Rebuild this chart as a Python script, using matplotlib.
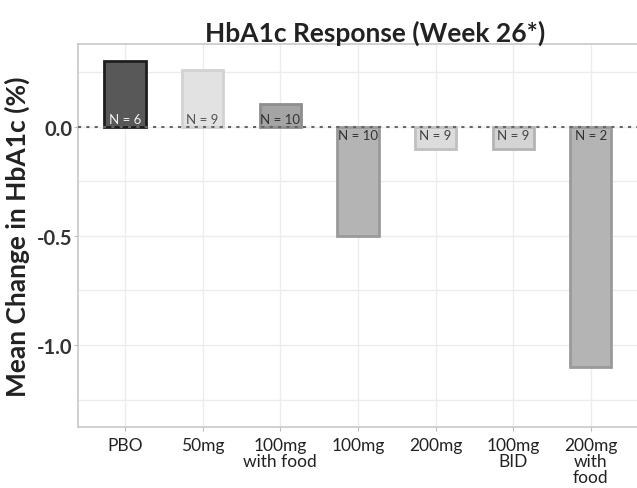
import matplotlib
matplotlib.use("Agg")
import matplotlib.pyplot as plt
import numpy as np

categories = ["PBO", "50mg", "100mg\nwith food", "100mg", "200mg", "100mg\nBID", "200mg\nwith\nfood"]
values = [0.30, 0.26, 0.105, -0.50, -0.10, -0.10, -1.10]
n_labels = ["N = 6", "N = 9", "N = 10", "N = 10", "N = 9", "N = 9", "N = 2"]
face_colors = ["#585858", "#e2e2e2", "#a4a4a4", "#b4b4b4", "#dcdcdc", "#d4d4d4", "#b4b4b4"]
edge_colors = ["#1e1e1e", "#d2d2d2", "#8e8e8e", "#9a9a9a", "#c0c0c0", "#b4b4b4", "#9a9a9a"]
text_colors = ["#f0f0f0", "#555555", "#333333", "#333333", "#444444", "#444444", "#333333"]

plt.rcParams['font.family'] = ['Lato', 'DejaVu Sans']

fig = plt.figure(figsize=(6.37, 4.89), dpi=100)
ax = fig.add_axes([0.1225, 0.1247, 0.877, 0.7833])

x = np.arange(len(categories))
ax.bar(x, values, width=0.53, color=face_colors, edgecolor=edge_colors, linewidth=2, zorder=3)

for xi, v, lab, tc in zip(x, values, n_labels, text_colors):
    if v >= 0:
        ax.text(xi, 0.01, lab, ha='center', va='bottom', fontsize=9.5, color=tc, zorder=4)
    else:
        ax.text(xi, -0.01, lab, ha='center', va='top', fontsize=9.5, color=tc, zorder=4)

ax.axhline(0, color="#666666", linestyle=(0, (1.5, 2.5)), linewidth=1.5, zorder=5)

ax.set_xlim(-0.605, 6.59)
ax.set_ylim(-1.376, 0.38)
ax.set_yticks([0.0, -0.5, -1.0])
ax.set_yticklabels(["0.0", "-0.5", "-1.0"], fontsize=14.5, fontweight='bold', color="#333333")
ax.set_yticks(np.arange(-1.25, 0.3, 0.25), minor=True)
ax.set_xticks(x)
ax.set_xticklabels(categories, fontsize=12.5, color="#222222", linespacing=1.0)
ax.tick_params(axis='x', length=3, color="#bbbbbb", pad=4)
ax.tick_params(axis='y', which='major', length=3, color="#bbbbbb", pad=1)
ax.tick_params(axis='y', which='minor', length=0)

ax.grid(True, which='both', axis='y', color="#ececec", linewidth=1, zorder=0)
ax.grid(True, which='major', axis='x', color="#ececec", linewidth=1, zorder=0)

for s in ['left', 'top', 'bottom']:
    ax.spines[s].set_color("#c8c8c8")
    ax.spines[s].set_linewidth(1.2)
ax.spines['right'].set_visible(False)

ax.set_ylabel("Mean Change in HbA1c (%)", fontsize=19, fontweight='bold', color="#222222", labelpad=5)
fig.text(0.589, 0.932, "HbA1c Response (Week 26*)", ha='center', va='center', fontsize=19, fontweight='bold', color="#222222")

fig.savefig("out.png", dpi=100)
